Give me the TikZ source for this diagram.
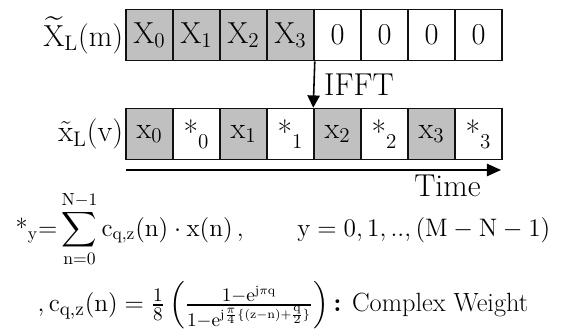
\documentclass[tikz,border=0pt]{standalone}
\usepackage{amsmath, amssymb}
\usepackage{tikz}
\usetikzlibrary{positioning, arrows.meta}
\definecolor{CellGray}{HTML}{C0C0C0}
\definecolor{InkBlack}{HTML}{111111}

\tikzset{
  cellbox/.style={draw=InkBlack, line width=0.9pt, fill=#1,
    minimum width=0.94cm, minimum height=1.02cm, inner sep=0pt,
    font=\fontsize{18}{20}\selectfont},
  cellbox/.default=white,
  rowlabel/.style={anchor=east, inner sep=1pt, font=\fontsize{18}{20}\selectfont},
  eqtext/.style={font=\fontsize{14}{17}\selectfont, inner sep=0pt},
}

\begin{document}
\begin{tikzpicture}[x=0.02cm, y=-0.02cm]
  \useasboundingbox (0,0) rectangle (563,333);
  % spectrum with zero padding
  \foreach \i/\t/\f in {0/\mathrm{X}_0/CellGray, 1/\mathrm{X}_1/CellGray,
      2/\mathrm{X}_2/CellGray, 3/\mathrm{X}_3/CellGray,
      4/0/white, 5/0/white, 6/0/white, 7/0/white}
    \node[cellbox=\f] (m\i) at ({149.5+47*\i},35) {$\t$};
  \node[rowlabel] (mlabel) at (m0.west) {$\widetilde{\mathrm{X}}_{\mathrm{L}}(\mathrm{m})$};

  % interpolated time samples
  \foreach \i/\t/\f in {0/\mathrm{x}_0/CellGray, 1/\text{*}_{0}/white,
      2/\mathrm{x}_1/CellGray, 3/\text{*}_{1}/white,
      4/\mathrm{x}_2/CellGray, 5/\text{*}_{2}/white,
      6/\mathrm{x}_3/CellGray, 7/\text{*}_{3}/white}
    \node[cellbox=\f] (v\i) at ({149.5+47*\i},134) {$\t$};
  \node[rowlabel] (vlabel) at (v0.west) {$\tilde{\mathrm{x}}_{\mathrm{L}}(\mathrm{v})$};

  \draw[line width=0.9pt, -{Triangle[length=7pt, width=7pt]}] (m3.south east) -- (v4.north west)
    node[midway, right=2pt, font=\fontsize{18}{20}\selectfont] (ifft) {IFFT};

  % time axis
  \coordinate (tstart) at (126,170);
  \coordinate (tend) at (501,170);
  \draw[line width=0.9pt, -{Triangle[length=8pt, width=7pt]}] (tstart) -- (tend);
  \node[anchor=north east, inner sep=0pt, font=\fontsize{18}{20}\selectfont] (time) at (481,175) {Time};

  % weighting equations
  \node[eqtext] (sumeq) at (283,229) {$\displaystyle \text{*}_{\mathrm{y}}{=}\sum_{\mathrm{n}=0}^{\mathrm{N}-1}
    \mathrm{c}_{\mathrm{q,z}}(\mathrm{n})\cdot\mathrm{x}(\mathrm{n})\,,\qquad
    \mathrm{y}=0,1,..,(\mathrm{M}-\mathrm{N}-1)$};
  \node[eqtext, font=\fontsize{15}{18}\selectfont] (weq) at (283,305) {$,\mathrm{c}_{\mathrm{q,z}}(\mathrm{n})=\tfrac{1}{8}\left(
    \frac{1-\mathrm{e}^{\mathrm{j}\pi\mathrm{q}}}{1-\mathrm{e}^{\mathrm{j}\frac{\pi}{4}\{(\mathrm{z}-\mathrm{n})+\frac{\mathrm{q}}{2}\}}}
    \right)$\,\textbf{:} Complex Weight};
\end{tikzpicture}
\end{document}
